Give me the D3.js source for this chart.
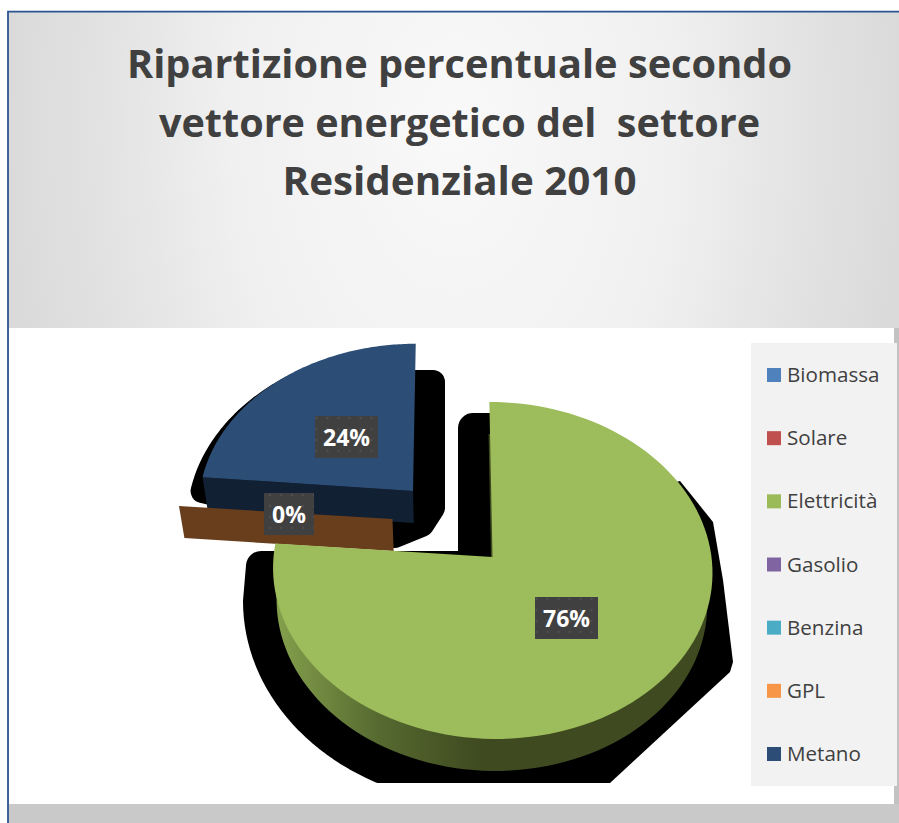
<!DOCTYPE html>
<html><head><meta charset="utf-8">
<script src="https://cdn.jsdelivr.net/npm/d3@7"></script>
<style>html,body{margin:0;padding:0;background:#fff}svg{display:block}</style>
</head><body><svg id="c" width="899" height="823"></svg>
<script>
const titleLines = ["Ripartizione percentuale secondo","vettore energetico del  settore","Residenziale 2010"];
const titleWidths = [665,601,354];
const categories = ["Biomassa","Solare","Elettricità","Gasolio","Benzina","GPL","Metano"];
const shares = [0,0,76.3,0,0,0.1,23.6];
const legendColors = ["#4f81bd","#c0504d","#9bbb59","#8064a2","#4bacc6","#f79646","#2c4d75"];

const svg = d3.select("#c");
const FONT = "'Open Sans',sans-serif";
const defs = svg.append("defs");

// background
const bg = defs.append("radialGradient").attr("id","bg").attr("gradientUnits","userSpaceOnUse")
  .attr("cx",0).attr("cy",0).attr("r",1).attr("gradientTransform","translate(455,130) scale(450,700)");
[[0,"#f9f9f9"],[0.5,"#f0f0f0"],[0.75,"#e4e4e4"],[1,"#dadada"]].forEach(s=>bg.append("stop").attr("offset",s[0]).attr("stop-color",s[1]));
svg.append("rect").attr("x",8).attr("y",12).attr("width",891).attr("height",811).attr("fill","url(#bg)");
svg.append("rect").attr("x",9).attr("y",804).attr("width",890).attr("height",19).attr("fill","#c9c9c9");
svg.append("rect").attr("x",894).attr("y",328).attr("width",5).attr("height",476).attr("fill","#c2c2c2");
svg.append("rect").attr("x",9).attr("y",328).attr("width",885).attr("height",476).attr("fill","#fff");
svg.append("path").attr("d","M8,823V11.7H899").attr("fill","none").attr("stroke","#2a5590").attr("stroke-width",1.8);

// title
svg.append("g").selectAll("text").data(titleLines).join("text")
  .attr("x",459.5).attr("y",(d,i)=>78+i*58.7).attr("text-anchor","middle").style("white-space","pre")
  .attr("textLength",(d,i)=>titleWidths[i]).attr("lengthAdjust","spacingAndGlyphs")
  .attr("font-family",FONT).attr("font-weight",700).attr("font-size",39.9).attr("fill","#404040").text(d=>d);

// pie geometry
const pie = d3.pie().sort(null).value(d=>d.v).startAngle(0).endAngle(2*Math.PI);
const arcs = pie(categories.map((c,i)=>({c,v:shares[i],col:legendColors[i]})));
const byName = n => arcs.find(a=>a.data.c===n);
const K=0.08, T=167.4, VX=450, DEPTH=32, SHRINK=0.02;
function proj(c,r,th,depth=0){
  const X=Math.sin(th),Y=Math.cos(th),s=1/(1+K*Y*r);
  let x=c.ax+r*c.rx*X*s+(c.ax-VX)*(s-1), y=c.ay-r*c.ry*T*Y*s;
  if(depth){ x+=(VX-x)*SHRINK; y+=depth; }
  return [x,y];
}
const line=d3.line();
function wedge(c,a0,a1,depth=0){
  const pts=[proj(c,0,0,depth)];
  d3.range(0,121).forEach(i=>pts.push(proj(c,1,a0+(a1-a0)*i/120,depth)));
  return line(pts)+"Z";
}
const green={ax:492.5,ay:557,rx:219,ry:1}, blue={ax:413,ay:491,rx:213,ry:0.95}, gpl={ax:392.5,ay:519,rx:216,ry:0.95};
const E=byName("Elettricità"),G=byName("GPL"),M=byName("Metano");

// shadows
const clip=defs.append("clipPath").attr("id","sc");
clip.append("rect").attr("x",0).attr("y",0).attr("width",899).attr("height",783);
const R=15, cx=488, cy=601, rx=230, ry=189;
const shadowPts=[[473,428],[520,428]];
d3.range(1.1,Math.PI+0.001,0.04).forEach(t=>shadowPts.push([cx+rx*Math.cos(t),cy+ry*Math.sin(t)]));
shadowPts.push([261,566],[473,566]);
const sg=svg.append("g").attr("clip-path","url(#sc)");
sg.append("path").attr("d",line(shadowPts)+"Z")
  .attr("fill","#000").attr("stroke","#000").attr("stroke-width",2*R).attr("stroke-linejoin","round");
const shadowRight=[[600,500],[680,481],[693,497],[713,522],[723,580],[733,662],[730,672],[610,783],[480,783],[480,600]];
sg.append("path").attr("d",line(shadowRight)+"Z").attr("fill","#000");

const bs=12, arcB=[], bsC={...blue,ay:blue.ay+14};
d3.range(0,35).forEach(i=>arcB.push(proj(bsC,1,M.startAngle+(M.endAngle-M.startAngle)*i/40)));
const blueShadow=[...arcB,[400,382],[433,382],[433,508],[422,525],[395,536]];
svg.append("path").attr("d",line(blueShadow)+"Z").attr("fill","#000").attr("stroke","#000")
  .attr("stroke-width",2*bs).attr("stroke-linejoin","round");

// Metano
svg.append("path").attr("d",line([proj(blue,0,0),proj(blue,1,M.startAngle),proj(blue,1,M.startAngle,DEPTH),proj(blue,0,0,DEPTH)])+"Z").attr("fill","#122033");
svg.append("path").attr("d",wedge(blue,M.startAngle,M.endAngle)).attr("fill","#2c4d75");

// GPL: thin slice, only its cut face shows
svg.append("path").attr("d",line([proj(gpl,0,0),proj(gpl,1,G.startAngle),proj(gpl,1,G.startAngle,DEPTH),proj(gpl,0,0,DEPTH)])+"Z").attr("fill","#693e1c");

// Elettricità
const wg=defs.append("linearGradient").attr("id","wall").attr("gradientUnits","userSpaceOnUse").attr("x1",276).attr("x2",480).attr("y1",0).attr("y2",0);
wg.append("stop").attr("offset",0).attr("stop-color","#84a04c");
wg.append("stop").attr("offset",0.5).attr("stop-color","#566a30");
wg.append("stop").attr("offset",1).attr("stop-color","#3f4a20");
svg.append("path").attr("d",wedge(green,E.startAngle,E.endAngle,DEPTH)).attr("fill","url(#wall)");
svg.append("path").attr("d",wedge(green,E.startAngle,E.endAngle)).attr("fill","#9dbc5b");

// labels
const pat=defs.append("pattern").attr("id","dots").attr("patternUnits","userSpaceOnUse").attr("width",11).attr("height",11);
pat.append("rect").attr("width",11).attr("height",11).attr("fill","#404040");
pat.append("circle").attr("cx",3).attr("cy",3).attr("r",1.2).attr("fill","#4e4e4e");
const pctFmt=d3.format(".0f");
const labelSpots=[{a:M,x:346.5,y:437,w:63},{a:G,x:289,y:514,w:50},{a:E,x:566.5,y:618,w:63}];
const lab=svg.append("g").selectAll("g").data(labelSpots).join("g").attr("transform",d=>`translate(${d.x},${d.y})`);
lab.append("rect").attr("x",d=>-d.w/2).attr("y",-21).attr("width",d=>d.w).attr("height",42).attr("fill","url(#dots)");
lab.append("text").attr("text-anchor","middle").attr("y",9).attr("font-family",FONT).attr("font-weight",700)
  .attr("font-size",23).attr("fill","#fff").text(d=>(d.a.data.v<0.5?"0":pctFmt(d.a.data.v))+"%");

// legend
svg.append("rect").attr("x",751).attr("y",343).attr("width",146).attr("height",443).attr("fill","#f2f2f2");
const ly=d3.scalePoint().domain(categories).range([375,754]);
const lg=svg.append("g").selectAll("g").data(categories).join("g").attr("transform",d=>`translate(767,${ly(d)})`);
lg.append("rect").attr("y",-7).attr("width",14).attr("height",14).attr("fill",(d,i)=>legendColors[i]);
lg.append("text").attr("x",20).attr("y",7).attr("font-family",FONT).attr("font-size",20.6).attr("fill","#404040").text(d=>d);
</script></body></html>
